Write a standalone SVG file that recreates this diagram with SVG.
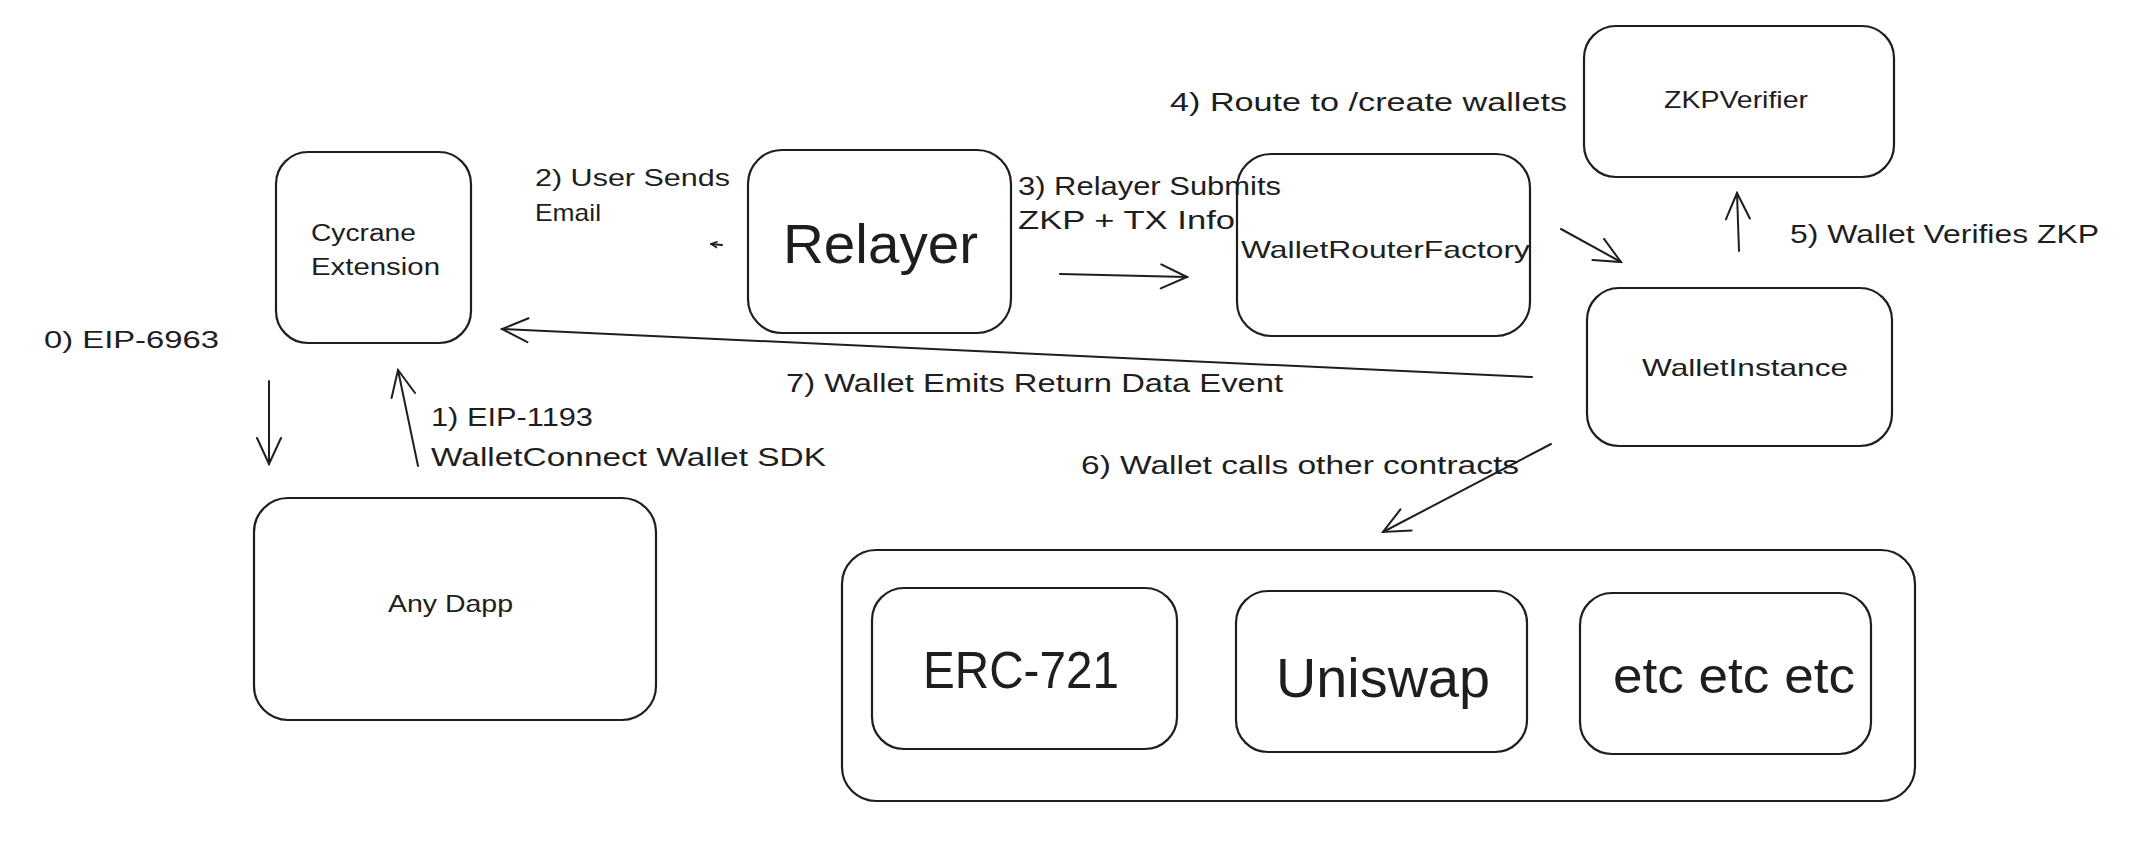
<svg xmlns="http://www.w3.org/2000/svg" width="2151" height="862" viewBox="0 0 2151 862">
<style>
.box{fill:none;stroke:#1e1e1e;stroke-width:2.2}
.t{font-family:"Liberation Sans",Arial,sans-serif;fill:#1e1e1e}
.c{stroke:#1e1e1e;stroke-width:2;fill:none;stroke-linecap:round}
</style>
<defs>
<marker id="ah" viewBox="0 0 30 30" refX="28" refY="15" markerWidth="30" markerHeight="30" markerUnits="userSpaceOnUse" orient="auto">
<path d="M2,3 L28,15 L2,27" fill="none" stroke="#1e1e1e" stroke-width="2" stroke-linecap="round"/>
</marker>
<marker id="ahs" viewBox="0 0 10 10" refX="9" refY="5" markerWidth="8" markerHeight="8" markerUnits="userSpaceOnUse" orient="auto">
<path d="M1,1 L9,5 L1,9" fill="none" stroke="#1e1e1e" stroke-width="2"/>
</marker>
</defs>
<rect width="2151" height="862" fill="#ffffff"/>

<g id="cycrane-extension">
<rect class="box" x="276" y="152" width="195" height="191" rx="32"/>
<text class="t" x="311" y="241" font-size="23" textLength="105" lengthAdjust="spacingAndGlyphs">Cycrane</text>
<text class="t" x="311" y="275" font-size="23" textLength="129" lengthAdjust="spacingAndGlyphs">Extension</text>
</g>

<g id="any-dapp">
<rect class="box" x="254" y="498" width="402" height="222" rx="34"/>
<text class="t" x="388" y="612" font-size="24" textLength="125" lengthAdjust="spacingAndGlyphs">Any Dapp</text>
</g>

<g id="relayer">
<rect class="box" x="748" y="150" width="263" height="183" rx="34"/>
<text class="t" x="783" y="263" font-size="56" textLength="195" lengthAdjust="spacingAndGlyphs">Relayer</text>
</g>

<g id="wallet-router-factory">
<rect class="box" x="1237" y="154" width="293" height="182" rx="34"/>
<text class="t" x="1241" y="258" font-size="24" textLength="289" lengthAdjust="spacingAndGlyphs">WalletRouterFactory</text>
</g>

<g id="zkp-verifier">
<rect class="box" x="1584" y="26" width="310" height="151" rx="32"/>
<text class="t" x="1664" y="108" font-size="24" textLength="144" lengthAdjust="spacingAndGlyphs">ZKPVerifier</text>
</g>

<g id="wallet-instance">
<rect class="box" x="1587" y="288" width="305" height="158" rx="32"/>
<text class="t" x="1642" y="376" font-size="24" textLength="206" lengthAdjust="spacingAndGlyphs">WalletInstance</text>
</g>

<g id="contracts">
<rect class="box" x="842" y="550" width="1073" height="251" rx="34"/>
</g>

<g id="erc-721">
<rect class="box" x="872" y="588" width="305" height="161" rx="32"/>
<text class="t" x="923" y="688" font-size="52" textLength="196" lengthAdjust="spacingAndGlyphs">ERC-721</text>
</g>

<g id="uniswap">
<rect class="box" x="1236" y="591" width="291" height="161" rx="32"/>
<text class="t" x="1276" y="697" font-size="56" textLength="214" lengthAdjust="spacingAndGlyphs">Uniswap</text>
</g>

<g id="etc">
<rect class="box" x="1580" y="593" width="291" height="161" rx="32"/>
<text class="t" x="1613" y="693" font-size="50" textLength="242" lengthAdjust="spacingAndGlyphs">etc etc etc</text>
</g>

<g id="connectors">
<line class="c" x1="269" y1="381" x2="269" y2="464" marker-end="url(#ah)"/>
<line class="c" x1="418" y1="466" x2="398" y2="370" marker-end="url(#ah)"/>
<line class="c" x1="722" y1="245" x2="711" y2="244" marker-end="url(#ahs)"/>
<line class="c" x1="1060" y1="274" x2="1187" y2="277" marker-end="url(#ah)"/>
<line class="c" x1="1561" y1="229" x2="1621" y2="262" marker-end="url(#ah)"/>
<line class="c" x1="1739" y1="251" x2="1737" y2="193" marker-end="url(#ah)"/>
<line class="c" x1="1532" y1="377" x2="502" y2="329" marker-end="url(#ah)"/>
<line class="c" x1="1551" y1="444" x2="1383" y2="532" marker-end="url(#ah)"/>
</g>

<g id="labels">
<text class="t" x="44" y="348" font-size="24" textLength="175" lengthAdjust="spacingAndGlyphs">0) EIP-6963</text>
<text class="t" x="431" y="426" font-size="25" textLength="162" lengthAdjust="spacingAndGlyphs">1) EIP-1193</text>
<text class="t" x="431" y="466" font-size="25" textLength="395" lengthAdjust="spacingAndGlyphs">WalletConnect Wallet SDK</text>
<text class="t" x="535" y="186" font-size="24" textLength="195" lengthAdjust="spacingAndGlyphs">2) User Sends</text>
<text class="t" x="535" y="221" font-size="24" textLength="66" lengthAdjust="spacingAndGlyphs">Email</text>
<text class="t" x="1018" y="195" font-size="25" textLength="263" lengthAdjust="spacingAndGlyphs">3) Relayer Submits</text>
<text class="t" x="1018" y="229" font-size="25" textLength="217" lengthAdjust="spacingAndGlyphs">ZKP + TX Info</text>
<text class="t" x="1170" y="111" font-size="25" textLength="397" lengthAdjust="spacingAndGlyphs">4) Route to /create wallets</text>
<text class="t" x="1790" y="243" font-size="25" textLength="309" lengthAdjust="spacingAndGlyphs">5) Wallet Verifies ZKP</text>
<text class="t" x="1081" y="474" font-size="25" textLength="438" lengthAdjust="spacingAndGlyphs">6) Wallet calls other contracts</text>
<text class="t" x="786" y="392" font-size="25" textLength="497" lengthAdjust="spacingAndGlyphs">7) Wallet Emits Return Data Event</text>
</g>
</svg>
